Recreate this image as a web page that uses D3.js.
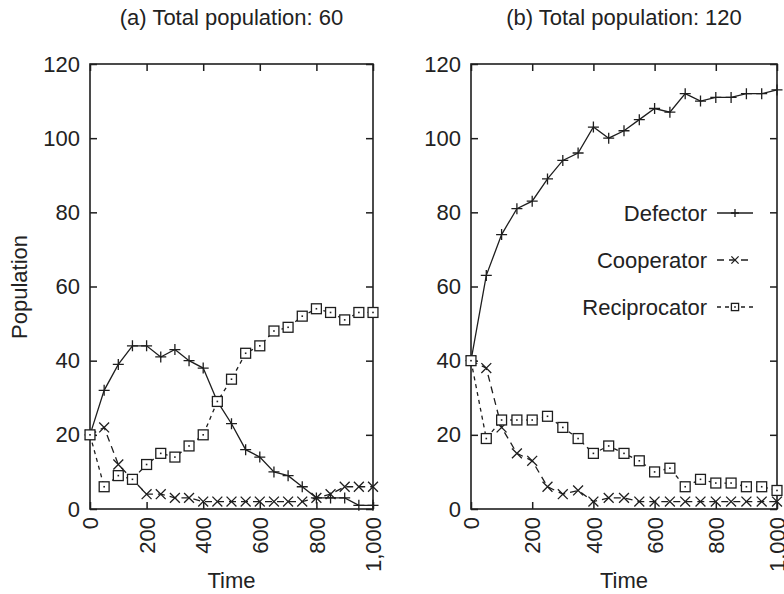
<!DOCTYPE html>
<html><head><meta charset="utf-8">
<script src="https://cdn.jsdelivr.net/npm/d3@7"></script>
<style>
body{margin:0;background:#fff;}
svg{display:block;}
text{font-family:"Liberation Sans",Arial,Helvetica,sans-serif;fill:#222;}
</style></head>
<body><svg id="chart" width="784" height="594"></svg>
<script>
const time = [0,50,100,150,200,250,300,350,400,450,500,550,600,650,700,750,800,850,900,950,1000];
const defectorA = [20,32,39,44,44,41,43,40,38,29,23,16,14,10,9,6,3,3,3,1,1];
const cooperatorA = [20,22,12,8,4,4,3,3,2,2,2,2,2,2,2,2,3,4,6,6,6];
const reciprocatorA = [20,6,9,8,12,15,14,17,20,29,35,42,44,48,49,52,54,53,51,53,53];
const defectorB = [40,63,74,81,83,89,94,96,103,100,102,105,108,107,112,110,111,111,112,112,113];
const cooperatorB = [40,38,22,15,13,6,4,5,2,3,3,2,2,2,2,2,2,2,2,2,2];
const reciprocatorB = [40,19,24,24,24,25,22,19,15,17,15,13,10,11,6,8,7,7,6,6,5];
const xTicks = [0,200,400,600,800,1000];
const yTicks = [0,20,40,60,80,100,120];
const seriesNames = ["Defector","Cooperator","Reciprocator"];
const titles = ["(a) Total population: 60","(b) Total population: 120"];

const svg = d3.select("#chart");
const ink = "#1e1e1e";
const FS = 22;
const styles = {
  Defector: {dash: null, marker: "plus"},
  Cooperator: {dash: "7,5", marker: "cross"},
  Reciprocator: {dash: "4,4", marker: "square"}
};

function marker(g, type, cx, cy, s) {
  if (type === "plus") {
    g.append("path").attr("d", `M${cx-s},${cy}H${cx+s}M${cx},${cy-s}V${cy+s}`)
      .attr("stroke", ink).attr("stroke-width", 1.3).attr("fill", "none");
  } else if (type === "cross") {
    const h = s*0.9;
    g.append("path").attr("d", `M${cx-h},${cy-h}L${cx+h},${cy+h}M${cx-h},${cy+h}L${cx+h},${cy-h}`)
      .attr("stroke", ink).attr("stroke-width", 1.3).attr("fill", "none");
  } else {
    const h = s*0.9;
    g.append("rect").attr("x", cx-h).attr("y", cy-h).attr("width", 2*h).attr("height", 2*h)
      .attr("stroke", ink).attr("stroke-width", 1.3).attr("fill", "#fff");
    g.append("rect").attr("x", cx-0.8).attr("y", cy-0.8).attr("width", 1.6).attr("height", 1.6).attr("fill", ink);
  }
}

const panels = [
  {left: 90, right: 373, data: [defectorA, cooperatorA, reciprocatorA], title: titles[0], ylabel: true, legend: false},
  {left: 471, right: 777, data: [defectorB, cooperatorB, reciprocatorB], title: titles[1], ylabel: false, legend: true}
];
const plotTop = 64, plotBottom = 509;

panels.forEach(p => {
  const x = d3.scaleLinear().domain([0,1000]).range([p.left, p.right]);
  const y = d3.scaleLinear().domain([0,120]).range([plotBottom, plotTop]);
  const g = svg.append("g");

  const ax = (sel) => { sel.selectAll(".domain").remove(); sel.selectAll("line").attr("stroke", ink).attr("stroke-width", 1.5); };
  const la = g.append("g").attr("transform", `translate(${p.left},0)`)
    .call(d3.axisLeft(y).tickValues(yTicks).tickSize(-7).tickSizeOuter(0).tickPadding(10)).call(ax);
  la.selectAll("text").attr("font-size", FS).attr("font-family", null);
  g.append("g").attr("transform", `translate(${p.right},0)`)
    .call(d3.axisRight(y).tickValues(yTicks).tickSize(-7).tickSizeOuter(0).tickFormat("")).call(ax);
  g.append("g").attr("transform", `translate(0,${plotTop})`)
    .call(d3.axisTop(x).tickValues(xTicks).tickSize(-7).tickSizeOuter(0).tickFormat("")).call(ax);
  const ba = g.append("g").attr("transform", `translate(0,${plotBottom})`)
    .call(d3.axisBottom(x).tickValues(xTicks).tickSize(-7).tickSizeOuter(0).tickFormat(d3.format(","))).call(ax);
  ba.selectAll("text")
    .attr("font-size", FS).attr("font-family", null)
    .attr("y", null).attr("dy", "0.35em")
    .attr("text-anchor", "end")
    .attr("transform", "translate(0,8) rotate(-90)");
  g.selectAll(".tick text").attr("fill", "#222");

  g.append("rect").attr("x", p.left).attr("y", plotTop).attr("width", p.right - p.left).attr("height", plotBottom - plotTop)
    .attr("fill", "none").attr("stroke", ink).attr("stroke-width", 1.6);

  p.data.forEach((vals, i) => {
    const st = styles[seriesNames[i]];
    const line = d3.line().x((d, j) => x(time[j])).y(d => y(d));
    g.append("path").datum(vals).attr("d", line).attr("fill", "none")
      .attr("stroke", ink).attr("stroke-width", 1.3).attr("stroke-dasharray", st.dash);
  });
  p.data.forEach((vals, i) => {
    const st = styles[seriesNames[i]];
    const mg = g.append("g");
    vals.forEach((v, j) => marker(mg, st.marker, x(time[j]), y(v), 5.5));
  });

  svg.append("text").attr("x", (p.left + p.right)/2).attr("y", 25).attr("text-anchor", "middle")
    .attr("font-size", FS).text(p.title);
  svg.append("text").attr("x", (p.left + p.right)/2).attr("y", 588).attr("text-anchor", "middle")
    .attr("font-size", FS).text("Time");
  if (p.ylabel) {
    svg.append("text").attr("transform", "translate(27,287) rotate(-90)").attr("text-anchor", "middle")
      .attr("font-size", FS).text("Population");
  }
  if (p.legend) {
    const rows = [213, 260, 307];
    seriesNames.forEach((name, i) => {
      const st = styles[name];
      const lg = svg.append("g");
      lg.append("text").attr("x", 707).attr("y", rows[i]).attr("dy", "0.35em").attr("text-anchor", "end")
        .attr("font-size", FS).text(name);
      lg.append("line").attr("x1", 717).attr("x2", 753).attr("y1", rows[i]).attr("y2", rows[i])
        .attr("stroke", ink).attr("stroke-width", 1.3).attr("stroke-dasharray", st.dash);
      marker(lg, st.marker, 735, rows[i], 4);
    });
  }
});
</script></body></html>
